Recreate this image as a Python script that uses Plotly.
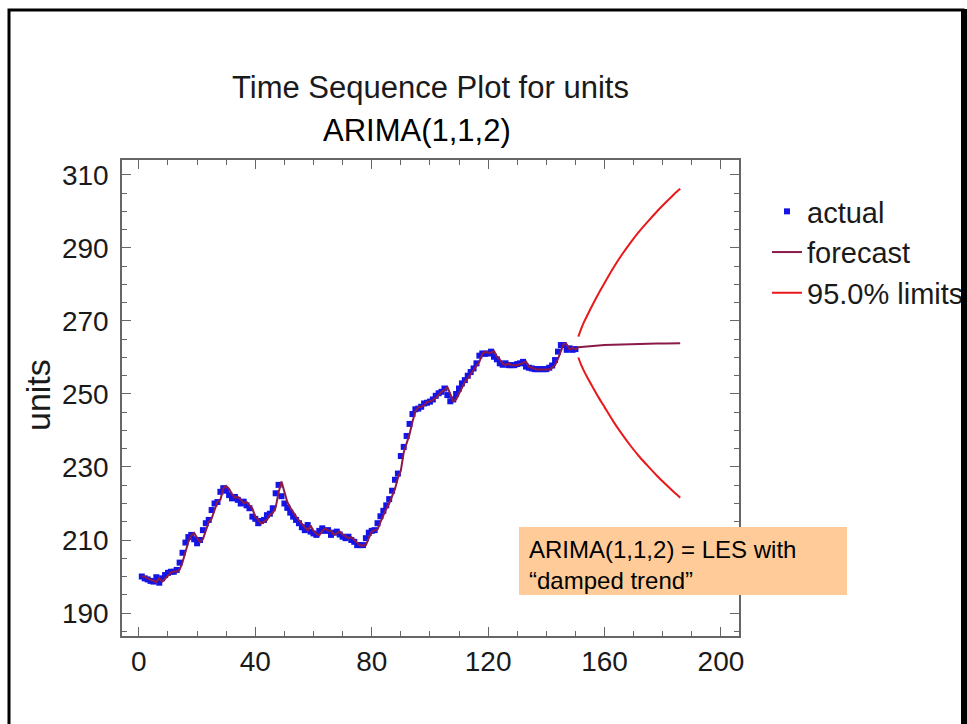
import plotly.graph_objects as go

# ---------------- data ----------------
t_actual = list(range(1, 151))
actual = [
    200.0, 199.5, 199.2, 198.8, 198.6, 199.8, 198.3, 199.5, 200.4, 201.0,
    201.3, 201.3, 201.8, 203.8, 206.5, 209.3, 210.8, 211.4, 210.2, 209.1,
    210.0, 212.7, 214.6, 215.5, 218.2, 220.0, 220.4, 223.2, 224.2, 223.5,
    222.3, 221.4, 221.8, 221.0, 220.0, 220.5, 219.5, 218.7, 216.4, 215.8,
    214.6, 215.2, 215.5, 216.8, 217.2, 218.7, 222.8, 225.1, 222.0, 220.0,
    218.8, 217.5, 216.4, 215.5, 214.6, 213.5, 212.7, 214.1, 212.3, 211.8,
    211.4, 212.5, 213.2, 212.5, 212.7, 211.4, 212.0, 212.3, 211.5, 210.9,
    210.5, 210.9, 210.0, 209.5, 208.6, 208.6, 208.6, 210.5, 212.0, 212.5,
    212.7, 214.6, 216.5, 218.0, 219.5, 221.2, 223.5, 226.5, 228.2, 233.0,
    235.5, 238.5, 241.8, 244.5, 245.8, 246.0, 246.5, 247.4, 247.6, 247.9,
    248.5, 249.5, 250.2, 250.6, 251.5, 249.7, 248.0, 248.5, 250.0, 251.5,
    252.9, 253.8, 255.0, 256.0, 257.0, 258.4, 260.5, 261.1, 261.0, 261.1,
    261.6, 260.2, 259.5, 258.4, 258.0, 258.4, 257.9, 257.9, 257.9, 258.2,
    258.4, 258.8, 257.5, 257.2, 257.0, 256.8, 256.8, 256.8, 256.8, 256.8,
    257.2, 257.8, 259.3, 261.6, 263.4, 263.4, 262.1, 262.5, 262.1, 262.3,
]
fitted = [
    200.0, 200.0, 199.5, 199.2, 198.8, 198.5, 199.5, 198.6, 199.4, 200.4,
    201.1, 201.4, 201.4, 201.9, 203.9, 206.7, 209.5, 211.2, 211.9, 210.6,
    209.4, 210.2, 212.8, 214.9, 215.9, 218.4, 220.5, 221.0, 224.0, 224.8,
    224.0, 222.6, 221.6, 221.8, 221.1, 220.1, 220.4, 219.5, 218.6, 216.4,
    215.6, 214.5, 215.0, 215.5, 216.9, 217.4, 218.9, 223.0, 226.0, 222.8,
    220.4, 218.9, 217.5, 216.4, 215.4, 214.5, 213.4, 212.6, 214.0, 212.4,
    211.7, 211.3, 212.4, 213.2, 212.5, 212.6, 211.4, 211.9, 212.3, 211.5,
    210.9, 210.5, 210.8, 210.0, 209.4, 208.5, 208.5, 208.6, 210.5, 212.2,
    212.7, 212.9, 214.9, 216.9, 218.5, 220.0, 221.8, 224.0, 227.0, 229.0,
    234.0, 236.3, 239.0, 242.4, 245.2, 246.4, 246.5, 246.9, 247.8, 248.0,
    248.3, 248.9, 249.9, 250.6, 251.0, 251.9, 250.0, 248.0, 248.5, 250.2,
    251.8, 253.3, 254.3, 255.4, 256.4, 257.4, 258.8, 261.0, 261.6, 261.3,
    261.3, 261.8, 260.3, 259.5, 258.3, 257.9, 258.4, 257.9, 257.9, 257.9,
    258.2, 258.5, 258.9, 257.5, 257.1, 256.9, 256.7, 256.7, 256.7, 256.7,
    256.7, 257.2, 257.9, 259.6, 262.0, 263.8, 263.6, 262.2, 262.6, 262.2,
]
fc_t = [151, 152, 153, 154, 156, 158, 160, 163, 166, 169, 172, 175, 178, 181, 184, 186]
forecast = [262.8, 262.9, 263.0, 263.05, 263.2, 263.3, 263.4, 263.5, 263.6, 263.65,
            263.7, 263.75, 263.8, 263.85, 263.9, 263.9]
upper = [265.7, 267.9, 269.8, 271.45, 274.6, 277.6, 280.4, 284.5, 288.2, 291.55,
         294.6, 297.35, 300.0, 302.45, 304.8, 306.2]
lower = [260.0, 257.9, 256.2, 254.65, 251.8, 249.0, 246.4, 242.5, 239.0, 235.75,
         232.8, 230.15, 227.6, 225.25, 223.0, 221.6]

x_ticks = [0, 40, 80, 120, 160, 200]
y_ticks = [190, 210, 230, 250, 270, 290, 310]

# ---------------- layout geometry (screen pixels) ----------------
W, H = 967, 724
PL, PR, PT, PB = 122, 739, 160, 636  # plot area edges


def px(x):
    return (x - PL) / (PR - PL)


def py(y):
    return (PB - y) / (PB - PT)


FONT = "Liberation Sans, Arial, sans-serif"
TXT = "#1a1a1a"

fig = go.Figure()

fig.add_trace(go.Scatter(
    x=t_actual, y=actual, mode="markers", name="actual",
    marker=dict(symbol="square", size=6, color="#1414e6", line=dict(width=0)),
))
fig.add_trace(go.Scatter(
    x=t_actual + fc_t, y=fitted + forecast, mode="lines", name="forecast",
    line=dict(color="#8b1a4a", width=2),
))
fig.add_trace(go.Scatter(
    x=fc_t, y=upper, mode="lines", name="95.0% limits", legendgroup="lim",
    line=dict(color="#e8181b", width=2, shape="spline", smoothing=0.6),
))
fig.add_trace(go.Scatter(
    x=fc_t, y=lower, mode="lines", name="95.0% limits", legendgroup="lim",
    showlegend=False, line=dict(color="#e8181b", width=2, shape="spline", smoothing=0.6),
))

axis_common = dict(
    showgrid=False, zeroline=False, showline=True, linecolor="#666666",
    linewidth=1.5, mirror="ticks", ticks="inside", ticklen=9, tickwidth=1,
    tickcolor="#666666", tickfont=dict(family=FONT, size=28, color=TXT),
)

fig.update_xaxes(
    range=[-5.8, 206.2], tickvals=x_ticks,
    minor=dict(dtick=10, tick0=0, ticks="inside", ticklen=5, tickcolor="#666666", showgrid=False),
    **axis_common,
)
fig.update_yaxes(
    range=[183.7, 314.1], tickvals=y_ticks, ticklabelstandoff=6,
    minor=dict(dtick=5, tick0=190, ticks="inside", ticklen=5, tickcolor="#666666", showgrid=False),
    **axis_common,
)

annotations = [
    dict(text="Time Sequence Plot for units", x=px(430), y=py(87), xref="paper", yref="paper",
         showarrow=False, xanchor="center", yanchor="middle",
         font=dict(family=FONT, size=31, color=TXT)),
    dict(text="ARIMA(1,1,2)", x=px(417), y=py(130), xref="paper", yref="paper",
         showarrow=False, xanchor="center", yanchor="middle",
         font=dict(family=FONT, size=31, color="#000000")),
    dict(text="units", x=px(38), y=py(395), xref="paper", yref="paper",
         showarrow=False, xanchor="center", yanchor="middle", textangle=-90,
         font=dict(family=FONT, size=34, color=TXT)),
    dict(text="ARIMA(1,1,2) = LES with", x=px(527), y=py(549), xref="paper", yref="paper",
         showarrow=False, xanchor="left", yanchor="middle",
         font=dict(family=FONT, size=24, color="#000000")),
    dict(text="\u201cdamped trend\u201d", x=px(527), y=py(580), xref="paper", yref="paper",
         showarrow=False, xanchor="left", yanchor="middle",
         font=dict(family=FONT, size=24, color="#000000")),
    # right slide border drawn above the legend so it clips the legend text
    dict(text=" ", x=px(961), y=py(9), xref="paper", yref="paper", showarrow=False,
         xanchor="left", yanchor="top", width=12, height=800, bgcolor="#000000",
         borderpad=0, borderwidth=0),
]

shapes = [
    # slide frame (left / top / bottom)
    dict(type="rect", xref="paper", yref="paper", x0=px(9), x1=px(963), y0=py(760), y1=py(10),
         line=dict(color="#000000", width=3), fillcolor="rgba(0,0,0,0)", layer="above"),
    # peach note box
    dict(type="rect", xref="paper", yref="paper", x0=px(519), x1=px(847), y0=py(595), y1=py(527),
         line=dict(width=0), fillcolor="#ffcc99", layer="above"),
]

fig.update_layout(
    width=W, height=H,
    margin=dict(l=PL, r=W - PR, t=PT, b=H - PB, autoexpand=False),
    paper_bgcolor="white", plot_bgcolor="white",
    showlegend=True,
    legend=dict(x=px(767), y=py(186), xanchor="left", yanchor="top",
                font=dict(family=FONT, size=29, color=TXT), bgcolor="rgba(0,0,0,0)",
                itemwidth=30, tracegroupgap=0),
    annotations=annotations,
    shapes=shapes,
)

fig.write_html(
    "out.html",
    config={"displayModeBar": False},
    post_script="document.body.style.margin='0';document.body.style.overflow='hidden';",
)
